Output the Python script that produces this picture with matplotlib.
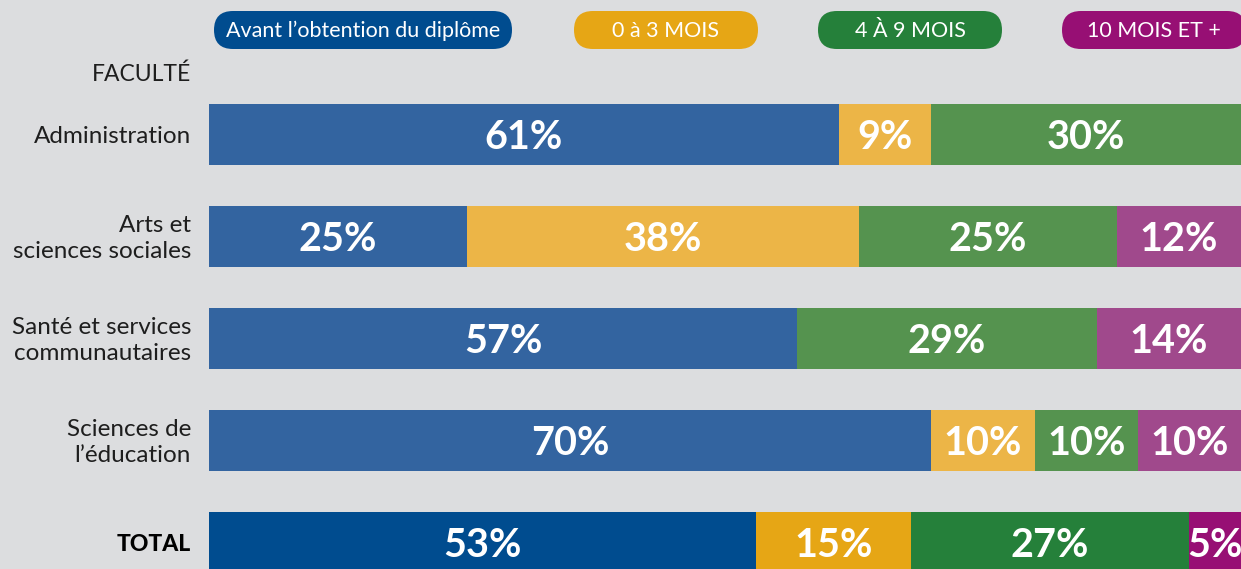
import matplotlib.pyplot as plt
from matplotlib.patches import FancyBboxPatch
import numpy as np

plt.rcParams['font.family'] = ['Lato', 'DejaVu Sans']

facultes = ['Administration', 'Arts et\nsciences sociales', 'Santé et services\ncommunautaires',
            'Sciences de\nl’éducation', 'TOTAL']
series = ['Avant l’obtention du diplôme', '0 à 3 MOIS', '4 À 9 MOIS', '10 MOIS ET +']
avant = [61, 25, 57, 70, 53]
mois_0_3 = [9, 38, 0, 10, 15]
mois_4_9 = [30, 25, 29, 10, 27]
mois_10 = [0, 12, 14, 10, 5]

light = ['#3364A0', '#ECB547', '#55934F', '#A0498C']
dark = ['#004C8F', '#E6A615', '#25803A', '#970F74']
bg = '#DCDDDF'

W, H = 1241, 569
fig = plt.figure(figsize=(W / 100, H / 100), dpi=100, facecolor=bg)

# bar area
x0, x1 = 209, 1241
ax = fig.add_axes([x0 / W, 0, (x1 - x0) / W, 1])
ax.set_facecolor('none')
top_c, step = 134.5, 102.0
ax.set_xlim(0, 100)
ax.set_ylim((H - top_c) / step, -top_c / step)
ax.axis('off')

data = np.array([avant, mois_0_3, mois_4_9, mois_10], dtype=float)
left = np.zeros(len(facultes))
for s in range(len(series)):
    for i in range(len(facultes)):
        v = data[s, i]
        if v <= 0:
            continue
        col = dark[s] if facultes[i] == 'TOTAL' else light[s]
        ax.barh(i, v, left=left[i], height=0.6, color=col, edgecolor='none')
        ax.text(left[i] + v / 2, i + 0.03, f'{int(v)}%', ha='center', va='center',
                color='white', fontsize=28.5, fontweight='bold')
    left += data[s]

# decorations in pixel coords
ov = fig.add_axes([0, 0, 1, 1])
ov.set_xlim(0, W)
ov.set_ylim(H, 0)
ov.axis('off')
ov.set_facecolor('none')

pills = [(214, 298), (574, 184), (818, 184), (1062, 184)]
for (px, pw), lab, col in zip(pills, series, dark):
    ov.add_patch(FancyBboxPatch((px, 11), pw, 38,
                                boxstyle='round,pad=0,rounding_size=19',
                                facecolor=col, edgecolor='none', clip_on=False))
    ov.text(px + pw / 2, 31, lab, ha='center', va='center', color='white', fontsize=15.5)

ov.text(191, 74, 'FACULTÉ', ha='right', va='center', fontsize=16.5, color='#1e1e1e')
for i, f in enumerate(facultes):
    if f == 'TOTAL':
        ov.text(191, top_c + step * i + 2, f, ha='right', va='center', fontsize=16.5,
                fontweight='black', color='#000000')
    else:
        ov.text(191, top_c + step * i + 2, f, ha='right', va='center', fontsize=17.5,
                color='#1e1e1e', linespacing=1.3)

fig.savefig('out.png', dpi=100, facecolor=bg)
